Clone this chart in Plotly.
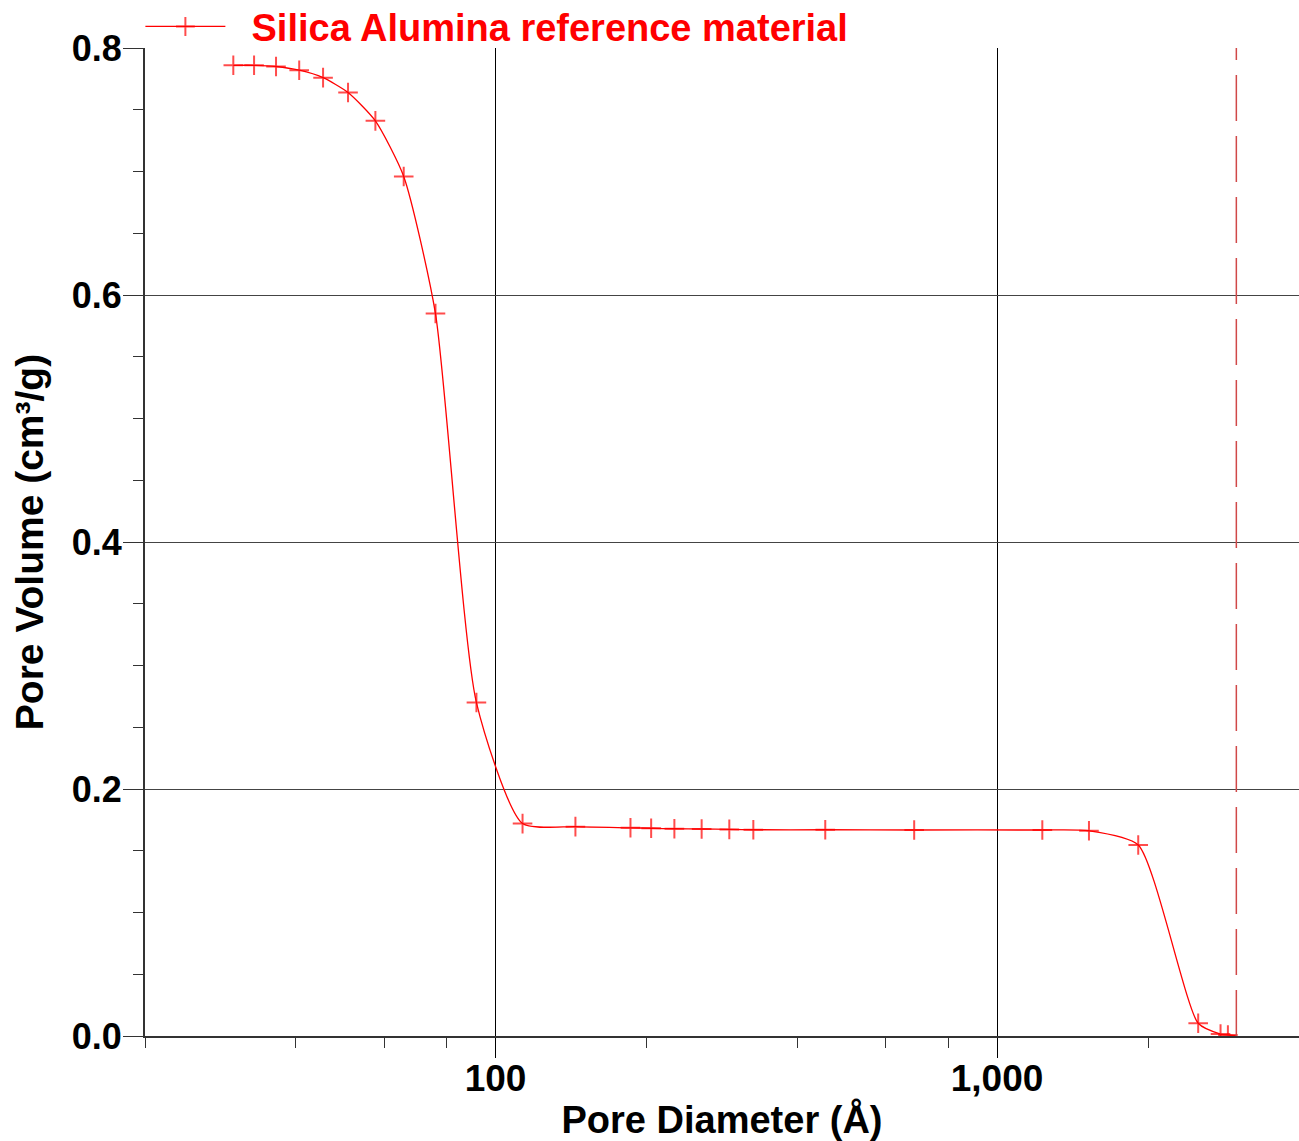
import plotly.graph_objects as go

# Data
pore_diameter = [30.0, 33.0, 36.5, 40.6, 45.3, 50.8, 57.6, 65.6, 75.9, 91.6,
                 113.2, 144.3, 185.8, 204.3, 227.3, 257.6, 292.5, 326.6, 454.4,
                 683.5, 1231, 1525, 1912, 2518, 2790, 2886, 3000]
pore_volume = [0.786, 0.786, 0.785, 0.782, 0.776, 0.764, 0.741, 0.696, 0.585, 0.270,
               0.172, 0.1695, 0.1686, 0.1682, 0.1678, 0.1676, 0.1673, 0.1670, 0.1670,
               0.1668, 0.1668, 0.1662, 0.1547, 0.0103, 0.0016, 0.0008, 0.0]
show_marker = [True] * 26 + [False]
limit_diameter = 3000

series_name = "Silica Alumina reference material"
x_title = "Pore Diameter (Å)"
y_title = "Pore Volume (cm³/g)"
x_tickvals = [100, 1000]
x_ticktext = ["100", "1,000"]
x_minor_vals = [20, 40, 60, 80, 200, 400, 600, 800, 2000, 4000]
y_tickvals = [0.0, 0.2, 0.4, 0.6, 0.8]
y_ticktext = ["0.0", "0.2", "0.4", "0.6", "0.8"]

RED = "#ff0000"
FONT = "Liberation Sans, Arial, sans-serif"

fig = go.Figure()
fig.add_trace(go.Scatter(
    x=pore_diameter, y=pore_volume, name="\u00a0\u00a0" + series_name,
    mode="lines+markers",
    line=dict(color=RED, width=1.3, shape="spline", smoothing=0.6),
    marker=dict(symbol="cross-thin-open", size=[14 if s else 0 for s in show_marker],
                color=RED, line=dict(color=RED, width=2)),
    showlegend=True,
))

fig.add_shape(type="line", xref="x", yref="paper",
              x0=limit_diameter, x1=limit_diameter, y0=0, y1=1,
              line=dict(color="#d04848", width=1.5, dash="46px,15px"))

fig.update_layout(
    width=1299, height=1141,
    margin=dict(l=145, r=0, t=48, b=105, autoexpand=False),
    paper_bgcolor="white", plot_bgcolor="white",
    font=dict(family=FONT, size=36, color="black", weight="bold"),
    showlegend=True,
    legend=dict(x=-0.004, y=1.0215, xanchor="left", yanchor="middle",
                orientation="h", bgcolor="rgba(0,0,0,0)",
                font=dict(family=FONT, size=38, color=RED, weight="bold"),
                itemwidth=80, borderwidth=0),
    xaxis=dict(
        type="log", range=[1.30103, 3.60206],
        tickvals=x_tickvals, ticktext=x_ticktext,
        ticks="outside", ticklen=20, tickwidth=1, tickcolor="black",
        tickfont=dict(family=FONT, size=37, color="black", weight="bold"),
        ticklabelstandoff=-11,
        showgrid=True, gridcolor="black", gridwidth=1,
        showline=True, linecolor="#333333", linewidth=2,
        zeroline=False,
        minor=dict(tickvals=x_minor_vals, ticks="outside", ticklen=10,
                   tickwidth=1, tickcolor="#333333", showgrid=False),
        title=dict(text=x_title, font=dict(family=FONT, size=38, color="black", weight="bold"),
                   standoff=19),
    ),
    yaxis=dict(
        range=[0, 0.8],
        tickvals=y_tickvals, ticktext=y_ticktext,
        ticks="outside", ticklen=20, tickwidth=1, tickcolor="#333333",
        tickfont=dict(family=FONT, size=36, color="black", weight="bold"),
        ticklabelstandoff=-6,
        showgrid=True, gridcolor="#444444", gridwidth=1.3,
        showline=True, linecolor="#333333", linewidth=2,
        zeroline=False,
        minor=dict(dtick=0.05, ticks="outside", ticklen=10, tickwidth=1,
                   tickcolor="#333333", showgrid=False),
        title=dict(text=y_title, font=dict(family=FONT, size=39, color="black", weight="bold"),
                   standoff=16),
    ),
)

fig.write_html("out.html")
